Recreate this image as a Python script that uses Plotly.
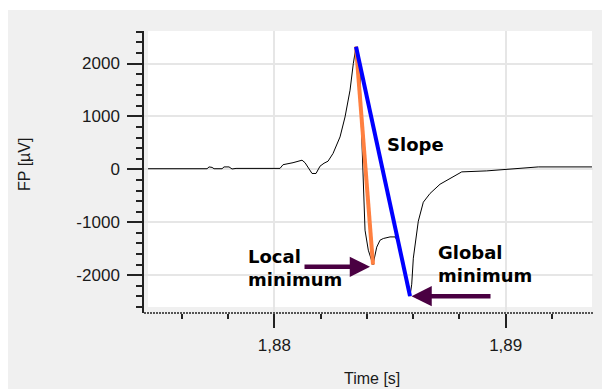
import plotly.graph_objects as go

# ---- data ----
time_s = [1.874542, 1.877092, 1.877178, 1.877308, 1.877394, 1.877740, 1.877826, 1.878042,
          1.878172, 1.878345, 1.880246, 1.880376, 1.880808, 1.881197, 1.881327, 1.881500,
          1.881629, 1.881802, 1.881975, 1.882148, 1.882321, 1.882537, 1.882710, 1.882840,
          1.883056, 1.883272, 1.883414, 1.883531, 1.883617, 1.883704, 1.883768, 1.883812,
          1.883846, 1.883920, 1.884062, 1.884265, 1.884425, 1.884568, 1.884710, 1.885000,
          1.885216, 1.885359, 1.885506, 1.885605, 1.885722, 1.885864, 1.885938, 1.886007,
          1.886102, 1.886223, 1.886439, 1.886729, 1.887161, 1.887723, 1.888099, 1.889179,
          1.890186, 1.891409, 1.893729]
fp_uv = [12, 12, 46, 37, 12, 12, 46, 46,
         7, 18, 18, 88, 126, 173, 126, 22,
         -78, -78, 60, 116, 154, 300, 475, 613,
         991, 1496, 2000, 2318, 2157, 1874, 740, 116,
         -521, -1150, -1528, -1802, -1471, -1339, -1307, -1277,
         -1277, -1377, -1717, -1944, -2157, -2397, -2171, -1679,
         -1339, -980, -621, -456, -281, -139, -48, -29,
         3, 46, 46]

y_tick_vals = [-2000, -1000, 0, 1000, 2000]
y_tick_text = ["-2000", "-1000", "0", "1000", "2000"]
x_tick_vals = [1.88, 1.89]
x_tick_text = ["1,88", "1,89"]

labels = {"slope": "Slope", "local": "Local<br>minimum", "global": "Global<br>minimum"}

# ---- derived points ----
i_peak = max(range(len(fp_uv)), key=lambda i: fp_uv[i])
i_gmin = min(range(len(fp_uv)), key=lambda i: fp_uv[i])
i_lmin = i_peak
while i_lmin + 1 < len(fp_uv) and fp_uv[i_lmin + 1] <= fp_uv[i_lmin]:
    i_lmin += 1

BG = "#f0f0f0"
DARK = "#4a0042"
TXT = "#1a1a1a"

fig = go.Figure()
fig.add_trace(go.Scatter(x=time_s, y=fp_uv, mode="lines",
                         line=dict(color="black", width=1), hoverinfo="skip"))
fig.add_trace(go.Scatter(x=[time_s[i_peak], time_s[i_lmin]], y=[fp_uv[i_peak], fp_uv[i_lmin]],
                         mode="lines", line=dict(color="#ff8040", width=4)))
fig.add_trace(go.Scatter(x=[time_s[i_peak], time_s[i_gmin]], y=[fp_uv[i_peak], fp_uv[i_gmin]],
                         mode="lines", line=dict(color="#0000ff", width=4)))

tickfont = dict(family="Liberation Sans, Arial, sans-serif", size=17, color=TXT)
fig.update_layout(
    width=610, height=389,
    margin=dict(l=136, r=25, t=23, b=84, pad=0, autoexpand=False),
    paper_bgcolor="white", plot_bgcolor="white",
    showlegend=False,
    xaxis=dict(range=[1.874367, 1.893773], tickmode="array", tickvals=x_tick_vals,
               ticktext=x_tick_text, ticks="outside", ticklen=14, tickwidth=1.5,
               tickcolor="#222", showline=False, zeroline=False,
               showgrid=True, gridcolor="#e6e6e6", gridwidth=1.5,
               tickfont=tickfont, ticklabelstandoff=3, automargin=False,
               minor=dict(tickmode="linear", tick0=1.88, dtick=0.002, ticks="outside",
                          ticklen=5, tickwidth=1.5, tickcolor="#222", showgrid=False)),
    yaxis=dict(range=[-2715, 2615], tickmode="array", tickvals=y_tick_vals,
               ticktext=y_tick_text, ticks="outside", ticklen=15, tickwidth=1.5,
               tickcolor="#222", showline=True, linecolor="#222", linewidth=1.5,
               zeroline=False, showgrid=True, gridcolor="#e6e6e6", gridwidth=1.5,
               tickfont=tickfont, ticklabelstandoff=4, automargin=False,
               minor=dict(tickmode="linear", tick0=0, dtick=200, ticks="outside",
                          ticklen=6, tickwidth=1.5, tickcolor="#222", showgrid=False)),
)

fig.add_shape(type="rect", xref="paper", yref="paper", x0=-0.33, x1=1.08, y0=-0.33, y1=1.0745,
              fillcolor=BG, line=dict(width=0), layer="below")
fig.add_shape(type="rect", xref="paper", yref="paper", x0=0.0089, x1=0.9978, y0=0.0213, y1=1.0,
              fillcolor="white", line=dict(width=0), layer="below")
fig.add_shape(type="line", xref="paper", yref="paper", x0=0.0, x1=1.0, y0=0.0, y1=0.0,
              line=dict(color="#222", width=1.5, dash="2px,1px"))

afont = dict(family="DejaVu Sans, Verdana, sans-serif", size=18, color="black")
fig.add_annotation(x=1.886080, y=469, xref="x", yref="y", text="<b>%s</b>" % labels["slope"],
                   showarrow=False, font=afont, xanchor="center", yanchor="middle")
fig.add_annotation(x=1.87878, y=-1867, xref="x", yref="y", text="<b>%s</b>" % labels["local"],
                   showarrow=False, font=afont, xanchor="left", yanchor="middle", align="left")
fig.add_annotation(x=1.886988, y=-1792, xref="x", yref="y", text="<b>%s</b>" % labels["global"],
                   showarrow=False, font=afont, xanchor="left", yanchor="middle", align="left")

# arrows pointing at the minima
fig.add_annotation(x=time_s[i_lmin], y=fp_uv[i_lmin] - 40, xref="x", yref="y", text="",
                   showarrow=True, ax=-70, ay=0, arrowhead=2, arrowsize=0.9, arrowwidth=4.5,
                   arrowcolor=DARK, standoff=3)
fig.add_annotation(x=time_s[i_gmin], y=fp_uv[i_gmin], xref="x", yref="y", text="",
                   showarrow=True, ax=82, ay=0, arrowhead=2, arrowsize=0.9, arrowwidth=4.5,
                   arrowcolor=DARK, standoff=1.5)

# axis titles
titlefont = dict(family="Liberation Sans, Arial, sans-serif", size=16, color=TXT)
fig.add_annotation(x=-0.265, y=0.525, xref="paper", yref="paper", text="FP [µV]",
                   textangle=-90, showarrow=False, font=titlefont,
                   xanchor="center", yanchor="middle")
fig.add_annotation(x=0.5078, y=-0.234, xref="paper", yref="paper", text="Time [s]",
                   showarrow=False, font=titlefont, xanchor="center", yanchor="middle")

fig.write_html("out.html")
